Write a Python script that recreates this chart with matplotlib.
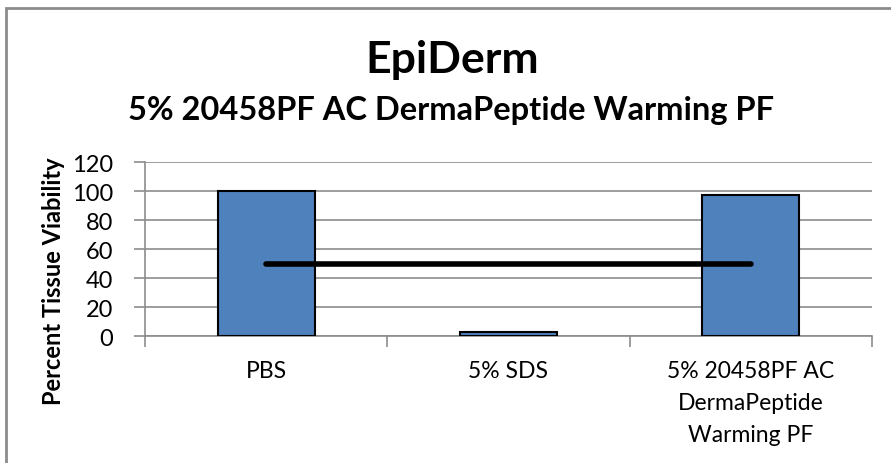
import matplotlib.pyplot as plt
import matplotlib.patches as mpatches
import numpy as np

plt.rcParams['font.family'] = ['Lato', 'DejaVu Sans']

categories = ["PBS", "5% SDS", "5% 20458PF AC\nDermaPeptide\nWarming PF"]
viability = [100, 3, 97]
threshold = 50
yticks = [0, 20, 40, 60, 80, 100, 120]

fig = plt.figure(figsize=(8.91, 4.64), dpi=100)
ax = fig.add_axes([0.1627, 0.2737, 0.8160, 0.3750])

x = np.arange(len(categories))
ax.bar(x, viability, width=0.4, color="#4F81BD", edgecolor="black",
       linewidth=1.5, zorder=3)
ax.plot([x[0], x[-1]], [threshold, threshold], color="black", linewidth=4,
        solid_capstyle="round", zorder=4)

ax.set_xlim(-0.5, len(categories) - 0.5)
ax.set_ylim(0, 120)
ax.set_yticks(yticks)
ax.set_yticklabels([str(v) for v in yticks], fontsize=17)
ax.grid(axis="y", color="#8c8c8c", linewidth=1.2, zorder=0)

# category labels centred, ticks at boundaries
ax.set_xticks(x)
ax.set_xticklabels(categories, fontsize=16.5, linespacing=1.65)
ax.tick_params(axis="x", length=0, pad=17)
ax.set_xticks(np.arange(-0.5, len(categories)), minor=True)
ax.tick_params(axis="x", which="minor", length=8, color="#8c8c8c", width=1.2)
ax.tick_params(axis="y", length=8, color="#8c8c8c", width=1.2, pad=15)

for side in ["top", "right"]:
    ax.spines[side].set_visible(False)
ax.spines["left"].set_color("#8c8c8c")
ax.spines["bottom"].set_color("#8c8c8c")
ax.spines["left"].set_linewidth(1.2)
ax.spines["bottom"].set_linewidth(1.2)

ax.set_ylabel("Percent Tissue Viability", fontsize=17, fontweight="bold")
ax.yaxis.set_label_coords(-0.11, 0.322)

fig.text(0.508, 0.843, "EpiDerm", ha="center", va="baseline",
         fontsize=32, fontweight="bold")
fig.text(0.506, 0.741, "5% 20458PF AC DermaPeptide Warming PF", ha="center",
         va="baseline", fontsize=23.5, fontweight="bold")

# chart border (clipped on right and bottom)
fig.patches.append(mpatches.Rectangle((6 / 891, -0.1), 1.2, 1.1 - 9 / 464,
                                      transform=fig.transFigure, fill=False,
                                      edgecolor="#8c8c8c", linewidth=2))

fig.savefig("out.png", dpi=100)
